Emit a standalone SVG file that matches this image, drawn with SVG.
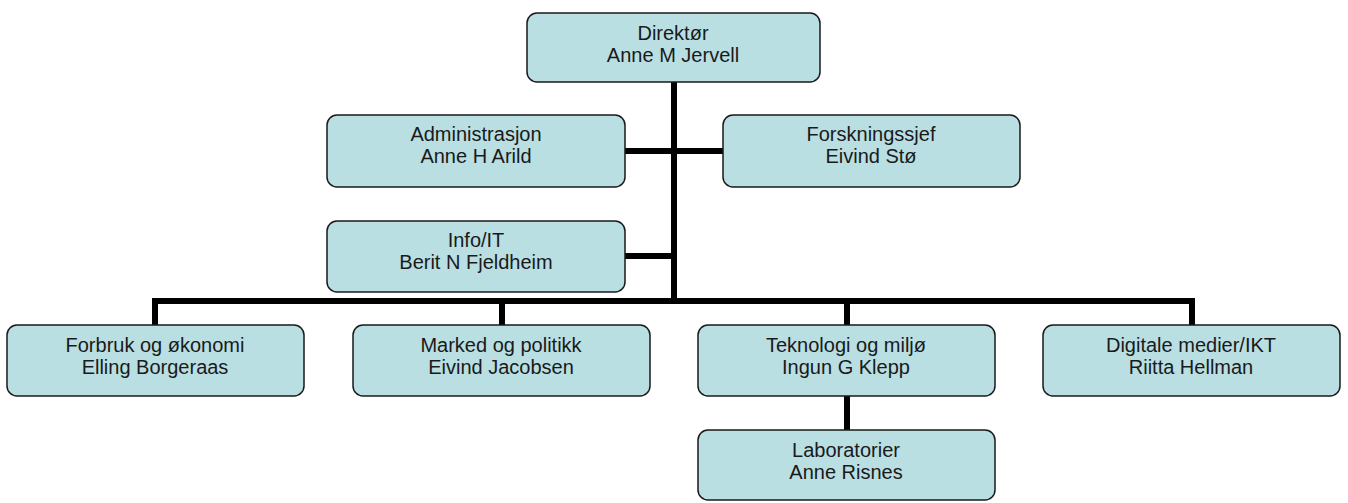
<svg xmlns="http://www.w3.org/2000/svg" width="1348" height="503" viewBox="0 0 1348 503">
<style>
.box{fill:#B9DFE3;stroke:#1a1a1a;stroke-width:1.5}
.t{font-family:"Liberation Sans",Arial,sans-serif;font-size:20px;fill:#1a1a1a;text-anchor:middle}
.c{stroke:#000;stroke-width:6;fill:none}
</style>
<rect width="1348" height="503" fill="#fff"/>
<g id="connectors">
<path class="c" d="M674 82 V301"/>
<path class="c" d="M625 151 H723"/>
<path class="c" d="M625 256 H674"/>
<path class="c" d="M155 325 V301 H1192 V325"/>
<path class="c" d="M502 301 V325"/>
<path class="c" d="M847 301 V325"/>
<path class="c" d="M847 396 V430"/>
</g>
<g id="direktor"><rect class="box" x="527" y="13" width="293" height="69" rx="10"/><text class="t" x="673" y="40">Direktør</text><text class="t" x="673" y="62">Anne M Jervell</text></g>
<g id="administrasjon"><rect class="box" x="327" y="115" width="298" height="72" rx="10"/><text class="t" x="476" y="141">Administrasjon</text><text class="t" x="476" y="163">Anne H Arild</text></g>
<g id="forskningssjef"><rect class="box" x="723" y="115" width="297" height="72" rx="10"/><text class="t" x="871" y="141">Forskningssjef</text><text class="t" x="871" y="163">Eivind Stø</text></g>
<g id="infoit"><rect class="box" x="327" y="221" width="298" height="71" rx="10"/><text class="t" x="476" y="247">Info/IT</text><text class="t" x="476" y="269">Berit N Fjeldheim</text></g>
<g id="forbruk"><rect class="box" x="7" y="325" width="297" height="71" rx="10"/><text class="t" x="155" y="352">Forbruk og økonomi</text><text class="t" x="155" y="374">Elling Borgeraas</text></g>
<g id="marked"><rect class="box" x="353" y="325" width="297" height="71" rx="10"/><text class="t" x="501" y="352">Marked og politikk</text><text class="t" x="501" y="374">Eivind Jacobsen</text></g>
<g id="teknologi"><rect class="box" x="698" y="325" width="297" height="71" rx="10"/><text class="t" x="846" y="352">Teknologi og miljø</text><text class="t" x="846" y="374">Ingun G Klepp</text></g>
<g id="digitale"><rect class="box" x="1043" y="325" width="297" height="71" rx="10"/><text class="t" x="1191" y="352">Digitale medier/IKT</text><text class="t" x="1191" y="374">Riitta Hellman</text></g>
<g id="laboratorier"><rect class="box" x="698" y="430" width="297" height="70" rx="10"/><text class="t" x="846" y="457">Laboratorier</text><text class="t" x="846" y="479">Anne Risnes</text></g>
</svg>
